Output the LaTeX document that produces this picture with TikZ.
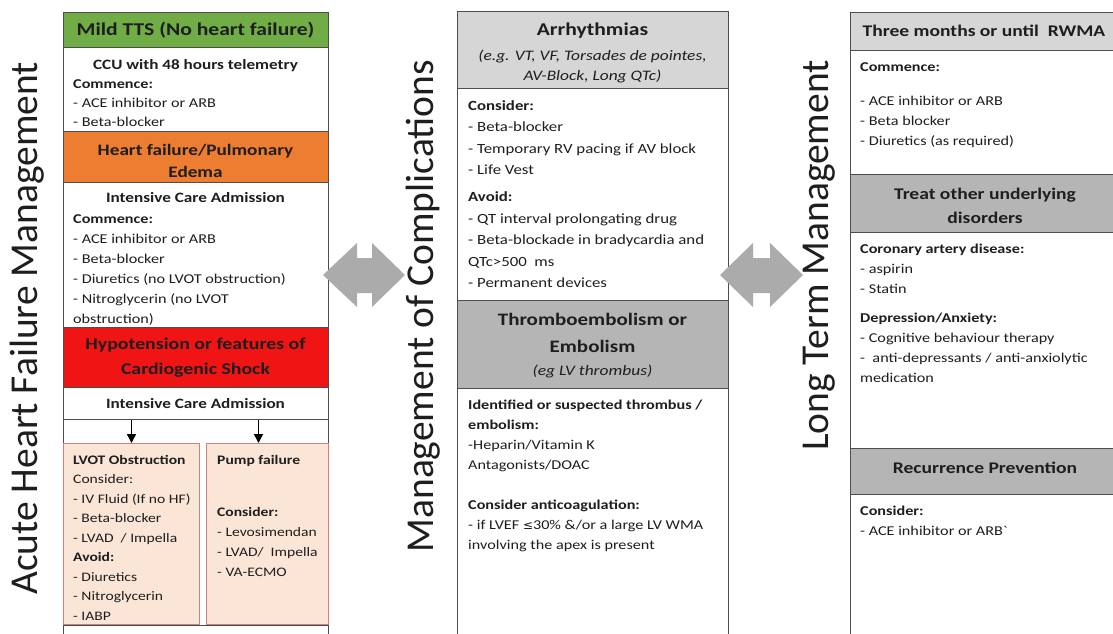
\documentclass[tikz,border=0pt]{standalone}
\usepackage{fontspec}
\setmainfont{Carlito}[FakeStretch=1.2]
\newfontfamily\sidefont{Carlito}
\newfontfamily\symf{DejaVu Sans}
\usetikzlibrary{arrows.meta}
\definecolor{edge}{HTML}{4D4D4D}
\definecolor{tgreen}{HTML}{70AD47}
\definecolor{torange}{HTML}{ED7D31}
\definecolor{tred}{HTML}{F01414}
\definecolor{pinkfill}{HTML}{FBE5D6}
\definecolor{pinkedge}{HTML}{C98280}
\definecolor{glight}{HTML}{D6D6D6}
\definecolor{gdark}{HTML}{B5B5B5}
\definecolor{agray}{HTML}{ABABAB}
\definecolor{ink}{HTML}{1E1E1E}
\begin{document}
\begin{tikzpicture}[x=1pt,y=-1pt,
  sec/.style={draw=edge, line width=1.2pt, anchor=north west, inner sep=0pt},
  pinkbox/.style={draw=pinkedge, fill=pinkfill, line width=1pt, anchor=north west, inner sep=0pt},
  hdr/.style={text=ink, align=center, inner sep=0pt, font=\fontsize{17}{23}\selectfont\bfseries},
  sub/.style={text=ink, anchor=base, inner sep=0pt, font=\fontsize{14.3}{20}\selectfont\bfseries},
  body/.style={text=ink, anchor=north west, align=left, inner sep=0pt, font=\fontsize{13.5}{20}\selectfont},
  bodym/.style={text=ink, anchor=north west, align=left, inner sep=0pt, font=\fontsize{14}{21.5}\selectfont},
  side/.style={text=ink, rotate=90, anchor=base east, inner sep=0pt, font=\sidefont\fontsize{39.5}{42}\selectfont},
  conn/.style={line width=1.6pt, -{Triangle[length=9pt,width=9pt]}}
]
\clip (0,0) rectangle (1113,633);
\fill[white] (0,0) rectangle (1113,633);

% ---------- side labels ----------
\node[side] (sl) at (37,62) {Acute Heart Failure Management};
\node[side] (sm) at (433,60) {Management of Complications};
\node[side] (sr) at (828,60) {Long Term Management};

% ---------- left column ----------
\node[sec, fill=tgreen, minimum width=265, minimum height=35] (g1) at (63,12) {};
\node[sec, fill=white, minimum width=265, minimum height=84] (w1) at (63,47) {};
\node[sec, fill=torange, minimum width=265, minimum height=51] (o1) at (63,131) {};
\node[sec, fill=white, minimum width=265, minimum height=145] (w2) at (63,182) {};
\node[sec, fill=tred, minimum width=265, minimum height=60] (r1) at (63,327) {};
\node[sec, fill=white, minimum width=265, minimum height=32] (icu) at (63,387) {};
\node[sec, fill=white, minimum width=265, minimum height=206] (w3) at (63,419) {};
\node[sec, fill=white, minimum width=265, minimum height=40] (w4) at (63,625) {};
\node[pinkbox, minimum width=136, minimum height=181] (lvot) at (63,443) {};
\node[pinkbox, minimum width=122, minimum height=181] (pump) at (206,443) {};

\node[hdr, font=\fontsize{18}{23}\selectfont\bfseries] (g1t) at (195.5,30) {Mild TTS (No heart failure)};
\node[sub] (ccu) at (195.5,69) {CCU with 48 hours telemetry};
\node[body, font=\fontsize{13.5}{19}\selectfont] (t1) at (73,74.7) {\strut\textbf{Commence:}\\- ACE inhibitor or ARB\\- Beta-blocker};
\node[hdr, font=\fontsize{16}{22}\selectfont\bfseries] (o1t) at (195.5,161) {Heart failure/Pulmonary\\Edema};
\node[sub] (ica1) at (195.5,202) {Intensive Care Admission};
\node[body] (t2) at (73,209) {\strut\textbf{Commence:}\\- ACE inhibitor or ARB\\- Beta-blocker\\- Diuretics (no LVOT obstruction)\\- Nitroglycerin (no LVOT\\obstruction)};
\node[hdr, font=\fontsize{16.5}{25}\selectfont\bfseries] (r1t) at (195.5,357.5) {Hypotension or features of\\Cardiogenic Shock};
\node[sub] (ica2) at (195.5,408) {Intensive Care Admission};
\node[body, font=\fontsize{13}{19.5}\selectfont] (t3) at (73,450.4) {\strut\textbf{LVOT Obstruction}\\Consider:\\- IV Fluid (If no HF)\\- Beta-blocker\\- LVAD~ / Impella\\\textbf{Avoid:}\\- Diuretics\\- Nitroglycerin\\- IABP};
\node[body, font=\fontsize{13}{20}\selectfont] (t4) at (217,450) {\strut\textbf{Pump failure}\\[32pt]\textbf{Consider:}\\- Levosimendan\\- LVAD/~ Impella\\- VA-ECMO};

\draw[conn] (icu.south -| lvot.north) -- (lvot.north);
\draw[conn] ([xshift=-9pt]icu.south -| pump.north) -- ([xshift=-9pt]pump.north);

% ---------- middle column ----------
\node[sec, fill=glight, minimum width=271, minimum height=77] (ah) at (457,11) {};
\node[sec, fill=white, minimum width=271, minimum height=212] (ab) at (457,88) {};
\node[sec, fill=gdark, minimum width=271, minimum height=88] (th) at (457,300) {};
\node[sec, fill=white, minimum width=271, minimum height=260] (tb) at (457,388) {};

\node[hdr, font=\fontsize{18}{23}\selectfont\bfseries] (aht) at (592.5,31) {Arrhythmias};
\node[hdr, font=\fontsize{14.5}{20}\selectfont\itshape] (ahs) at (592.5,66) {(e.g. VT, VF, Torsades de pointes,\\AV-Block, Long QTc)};
\node[bodym] (abt) at (468,95) {\strut\textbf{Consider:}\\- Beta-blocker\\- Temporary RV pacing if AV block\\- Life Vest\\[5.5pt]\textbf{Avoid:}\\- QT interval prolongating drug\\- Beta-blockade in bradycardia and\\QTc>500~ ms\\- Permanent devices};
\node[hdr, font=\fontsize{17.5}{27}\selectfont\bfseries] (tht) at (592.5,332.5) {Thromboembolism or\\Embolism};
\node[hdr, font=\fontsize{14.5}{20}\selectfont\itshape] (ths) at (592.5,371) {(eg LV thrombus)};
\node[body] (tbt) at (468,395) {\strut\textbf{Identified or suspected thrombus /}\\\textbf{embolism:}\\-Heparin/Vitamin K\\Antagonists/DOAC\\[20pt]\textbf{Consider anticoagulation:}\\- if LVEF {\symf\fontsize{12}{20}\selectfont ≤}30\% \&/or a large LV WMA\\involving the apex is present};

% ---------- right column ----------
\node[sec, fill=glight, minimum width=272, minimum height=38] (mh) at (850,12) {};
\node[sec, fill=white, minimum width=272, minimum height=124] (mb) at (850,50) {};
\node[sec, fill=gdark, minimum width=272, minimum height=58] (uh) at (850,174) {};
\node[sec, fill=white, minimum width=272, minimum height=216] (ub) at (850,232) {};
\node[sec, fill=gdark, minimum width=272, minimum height=46] (rh) at (850,448) {};
\node[sec, fill=white, minimum width=272, minimum height=160] (rb) at (850,494) {};

\node[hdr, font=\fontsize{16.3}{23}\selectfont\bfseries] (mht) at (984,31) {Three months or until~ RWMA};
\node[body] (mbt) at (860,57) {\strut\textbf{Commence:}\\[14pt]- ACE inhibitor or ARB\\- Beta blocker\\- Diuretics (as required)};
\node[hdr, font=\fontsize{16.3}{24}\selectfont\bfseries] (uht) at (985,206) {Treat other underlying\\disorders};
\node[body] (ubt) at (860,239) {\strut\textbf{Coronary artery disease:}\\- aspirin\\- Statin\\[9pt]\textbf{Depression/Anxiety:}\\- Cognitive behaviour therapy\\-~ anti-depressants / anti-anxiolytic\\medication};
\node[hdr, font=\fontsize{16.3}{23}\selectfont\bfseries] (rht) at (985,468) {Recurrence Prevention};
\node[body] (rbt) at (860,501) {\strut\textbf{Consider:}\\- ACE inhibitor or ARB\textasciigrave};

% ---------- double arrows ----------
\fill[agray] (323,275) -- (357,243) -- (357,258) -- (372,258) -- (372,243) -- (405,275)
  -- (372,307) -- (372,293) -- (357,293) -- (357,307) -- cycle;
\fill[agray] (720,275) -- (753,243) -- (753,258) -- (770,258) -- (770,243) -- (803,275)
  -- (770,307) -- (770,293) -- (753,293) -- (753,307) -- cycle;
\end{tikzpicture}
\end{document}
